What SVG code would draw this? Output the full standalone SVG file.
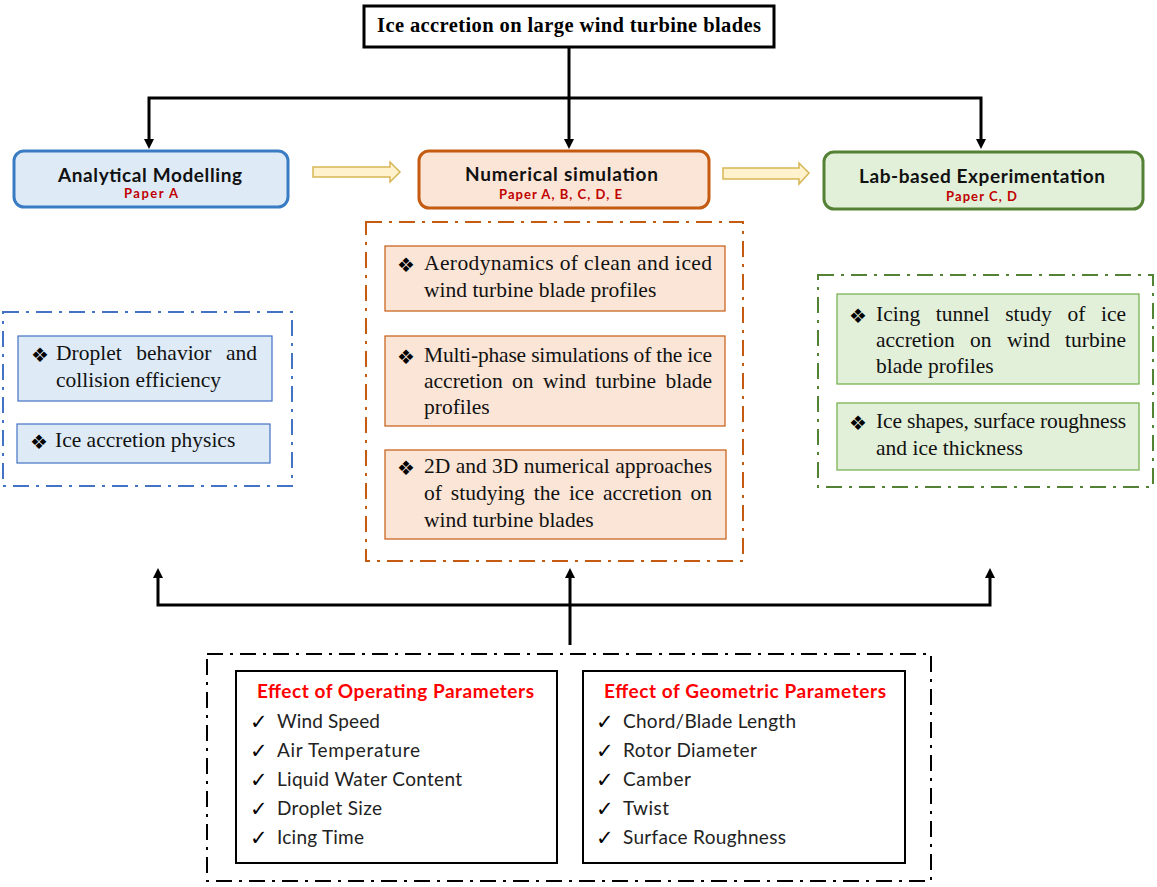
<svg xmlns="http://www.w3.org/2000/svg" width="1157" height="887" viewBox="0 0 1157 887">
  <defs>
    <marker id="arrow" viewBox="0 0 10 10" refX="2" refY="5" markerWidth="10" markerHeight="11" markerUnits="userSpaceOnUse" orient="auto-start-reverse">
      <path d="M0,0 L10,5 L0,10 z" fill="#000"/>
    </marker>
    <style>
      .serif { font-family: "Liberation Serif", "Times New Roman", serif; font-size: 21.5px; fill: #111; }
      .bullet { font-family: "DejaVu Sans", sans-serif; font-size: 20px; fill: #000; }
      .head { font-family: Lato, "Liberation Sans", sans-serif; font-weight: bold; font-size: 19px; fill: #111; text-anchor: middle; }
      .paper { font-family: Lato, "Liberation Sans", sans-serif; font-weight: bold; font-size: 13px; fill: #c00000; text-anchor: middle; }
      .item { font-family: Lato, "Liberation Sans", sans-serif; font-size: 19px; fill: #222; }
      .check { font-family: "DejaVu Sans", sans-serif; font-size: 21px; fill: #000; }
      .red { font-family: Lato, "Liberation Sans", sans-serif; font-weight: bold; font-size: 19px; fill: #ff0000; text-anchor: middle; }
      .conn { fill: none; stroke: #000; stroke-width: 3; }
      .dash { fill: none; stroke-width: 2; stroke-dasharray: 16 7 3 7; }
      .blockarrow { fill: #fff2cc; stroke: #d6b656; stroke-width: 1.5; }
    </style>
  </defs>

  <!-- connectors -->
  <g id="connectors">
    <path class="conn" d="M569,47 V141" marker-end="url(#arrow)"/>
    <path class="conn" d="M149,141 V98 H981 V141" marker-start="url(#arrow)" marker-end="url(#arrow)"/>
    <path class="conn" d="M158,576 V605 H990 V576" marker-start="url(#arrow)" marker-end="url(#arrow)"/>
    <path class="conn" d="M570,645 V576" marker-end="url(#arrow)"/>
    <path class="blockarrow" d="M313,167 H390 V162 L400,172 L390,182 V177 H313 z"/>
    <path class="blockarrow" d="M723,168 H799 V163 L809,173 L799,184 V179 H723 z"/>
  </g>

  <!-- title -->
  <g id="title">
    <rect x="364" y="6" width="410" height="41" fill="#fff" stroke="#000" stroke-width="3"/>
    <text x="569" y="32" text-anchor="middle" textLength="384" font-family="Liberation Serif, serif" font-weight="bold" font-size="20.5" fill="#000">Ice accretion on large wind turbine blades</text>
  </g>

  <!-- top row -->
  <g id="analytical">
    <rect x="14" y="151" width="274" height="56" rx="10" fill="#deebf7" stroke="#3a7cc4" stroke-width="3"/>
    <text class="head" x="150" y="182" textLength="184">Analytical Modelling</text>
    <text class="paper" x="151" y="198" textLength="54">Paper A</text>
  </g>
  <g id="numerical">
    <rect x="419" y="151" width="290" height="57" rx="10" fill="#fbe5d6" stroke="#c55a11" stroke-width="3"/>
    <text class="head" x="561.5" y="181" textLength="193">Numerical simulation</text>
    <text class="paper" x="560.5" y="199" textLength="123">Paper A, B, C, D, E</text>
  </g>
  <g id="lab">
    <rect x="824" y="152" width="319" height="57" rx="10" fill="#e2f0d9" stroke="#548235" stroke-width="3"/>
    <text class="head" x="982" y="183" textLength="246">Lab-based Experimentation</text>
    <text class="paper" x="981.5" y="201" textLength="71">Paper C, D</text>
  </g>

  <!-- analytical topics -->
  <g id="analytical-topics">
    <rect class="dash" x="3" y="312" width="289" height="174" stroke="#4472c4"/>
    <rect x="18" y="336" width="254" height="65" fill="#deebf7" stroke="#4472c4" stroke-width="1.2"/>
    <text class="bullet" x="31" y="362">❖</text>
    <text class="serif" y="360"><tspan x="56">Droplet</tspan><tspan x="136.3">behavior</tspan><tspan x="257" text-anchor="end">and</tspan></text>
    <text class="serif" x="56" y="387">collision efficiency</text>
    <rect x="17" y="424" width="253" height="39" fill="#deebf7" stroke="#4472c4" stroke-width="1.2"/>
    <text class="bullet" x="30" y="449">❖</text>
    <text class="serif" x="55" y="447">Ice accretion physics</text>
  </g>

  <!-- numerical topics -->
  <g id="numerical-topics">
    <rect class="dash" x="366" y="222" width="377" height="339" stroke="#c55a11"/>
    <rect x="385" y="246" width="340" height="65" fill="#fbe5d6" stroke="#c55a11" stroke-width="1.2"/>
    <text class="bullet" x="397" y="272">❖</text>
    <text class="serif" x="424" y="270" textLength="288">Aerodynamics of clean and iced</text>
    <text class="serif" x="424" y="297">wind turbine blade profiles</text>
    <rect x="385" y="336" width="340" height="90" fill="#fbe5d6" stroke="#c55a11" stroke-width="1.2"/>
    <text class="bullet" x="397" y="364">❖</text>
    <text class="serif" x="424" y="362" textLength="288">Multi-phase simulations of the ice</text>
    <text class="serif" y="388"><tspan x="424">accretion</tspan><tspan x="512.1">on</tspan><tspan x="542.9">wind</tspan><tspan x="595.2">turbine</tspan><tspan x="712" text-anchor="end">blade</tspan></text>
    <text class="serif" x="424" y="414">profiles</text>
    <rect x="385" y="450" width="341" height="89" fill="#fbe5d6" stroke="#c55a11" stroke-width="1.2"/>
    <text class="bullet" x="397" y="475">❖</text>
    <text class="serif" y="473"><tspan x="424">2D</tspan><tspan x="455.7">and</tspan><tspan x="492.1">3D</tspan><tspan x="523.8">numerical</tspan><tspan x="712" text-anchor="end">approaches</tspan></text>
    <text class="serif" y="500"><tspan x="424">of</tspan><tspan x="450.8">studying</tspan><tspan x="533.7">the</tspan><tspan x="568.9">ice</tspan><tspan x="602.9">accretion</tspan><tspan x="712" text-anchor="end">on</tspan></text>
    <text class="serif" x="424" y="527">wind turbine blades</text>
  </g>

  <!-- lab topics -->
  <g id="lab-topics">
    <rect class="dash" x="818" y="275" width="335" height="212" stroke="#548235"/>
    <rect x="837" y="294" width="302" height="90" fill="#e2f0d9" stroke="#70ad47" stroke-width="1.2"/>
    <text class="bullet" x="849" y="323">❖</text>
    <text class="serif" y="321"><tspan x="876">Icing</tspan><tspan x="935.8">tunnel</tspan><tspan x="1005.2">study</tspan><tspan x="1067.4">of</tspan><tspan x="1126" text-anchor="end">ice</tspan></text>
    <text class="serif" y="347"><tspan x="876">accretion</tspan><tspan x="970.1">on</tspan><tspan x="1006.9">wind</tspan><tspan x="1126" text-anchor="end">turbine</tspan></text>
    <text class="serif" x="876" y="373">blade profiles</text>
    <rect x="837" y="403" width="302" height="67" fill="#e2f0d9" stroke="#70ad47" stroke-width="1.2"/>
    <text class="bullet" x="849" y="430">❖</text>
    <text class="serif" x="876" y="428" textLength="250">Ice shapes, surface roughness</text>
    <text class="serif" x="876" y="455">and ice thickness</text>
  </g>

  <!-- parameters -->
  <g id="parameters">
    <rect class="dash" x="207" y="654" width="724" height="227" stroke="#000"/>
  </g>
  <g id="operating">
    <rect x="236" y="671" width="321" height="192" fill="#fff" stroke="#000" stroke-width="2"/>
    <text class="red" x="395.5" y="698" textLength="277">Effect of Operating Parameters</text>
    <text class="check" x="250" y="729">✓</text><text class="item" x="277" y="728" textLength="103">Wind Speed</text>
    <text class="check" x="250" y="758">✓</text><text class="item" x="277" y="757" textLength="143">Air Temperature</text>
    <text class="check" x="250" y="787">✓</text><text class="item" x="277" y="786" textLength="185">Liquid Water Content</text>
    <text class="check" x="250" y="816">✓</text><text class="item" x="277" y="815" textLength="105">Droplet Size</text>
    <text class="check" x="250" y="845">✓</text><text class="item" x="277" y="844" textLength="87">Icing Time</text>
  </g>
  <g id="geometric">
    <rect x="583" y="671" width="322" height="192" fill="#fff" stroke="#000" stroke-width="2"/>
    <text class="red" x="745" y="698" textLength="282">Effect of Geometric Parameters</text>
    <text class="check" x="596" y="729">✓</text><text class="item" x="623" y="728" textLength="173">Chord/Blade Length</text>
    <text class="check" x="596" y="758">✓</text><text class="item" x="623" y="757" textLength="134">Rotor Diameter</text>
    <text class="check" x="596" y="787">✓</text><text class="item" x="623" y="786" textLength="68">Camber</text>
    <text class="check" x="596" y="816">✓</text><text class="item" x="623" y="815" textLength="46">Twist</text>
    <text class="check" x="596" y="845">✓</text><text class="item" x="623" y="844" textLength="163">Surface Roughness</text>
  </g>
</svg>
